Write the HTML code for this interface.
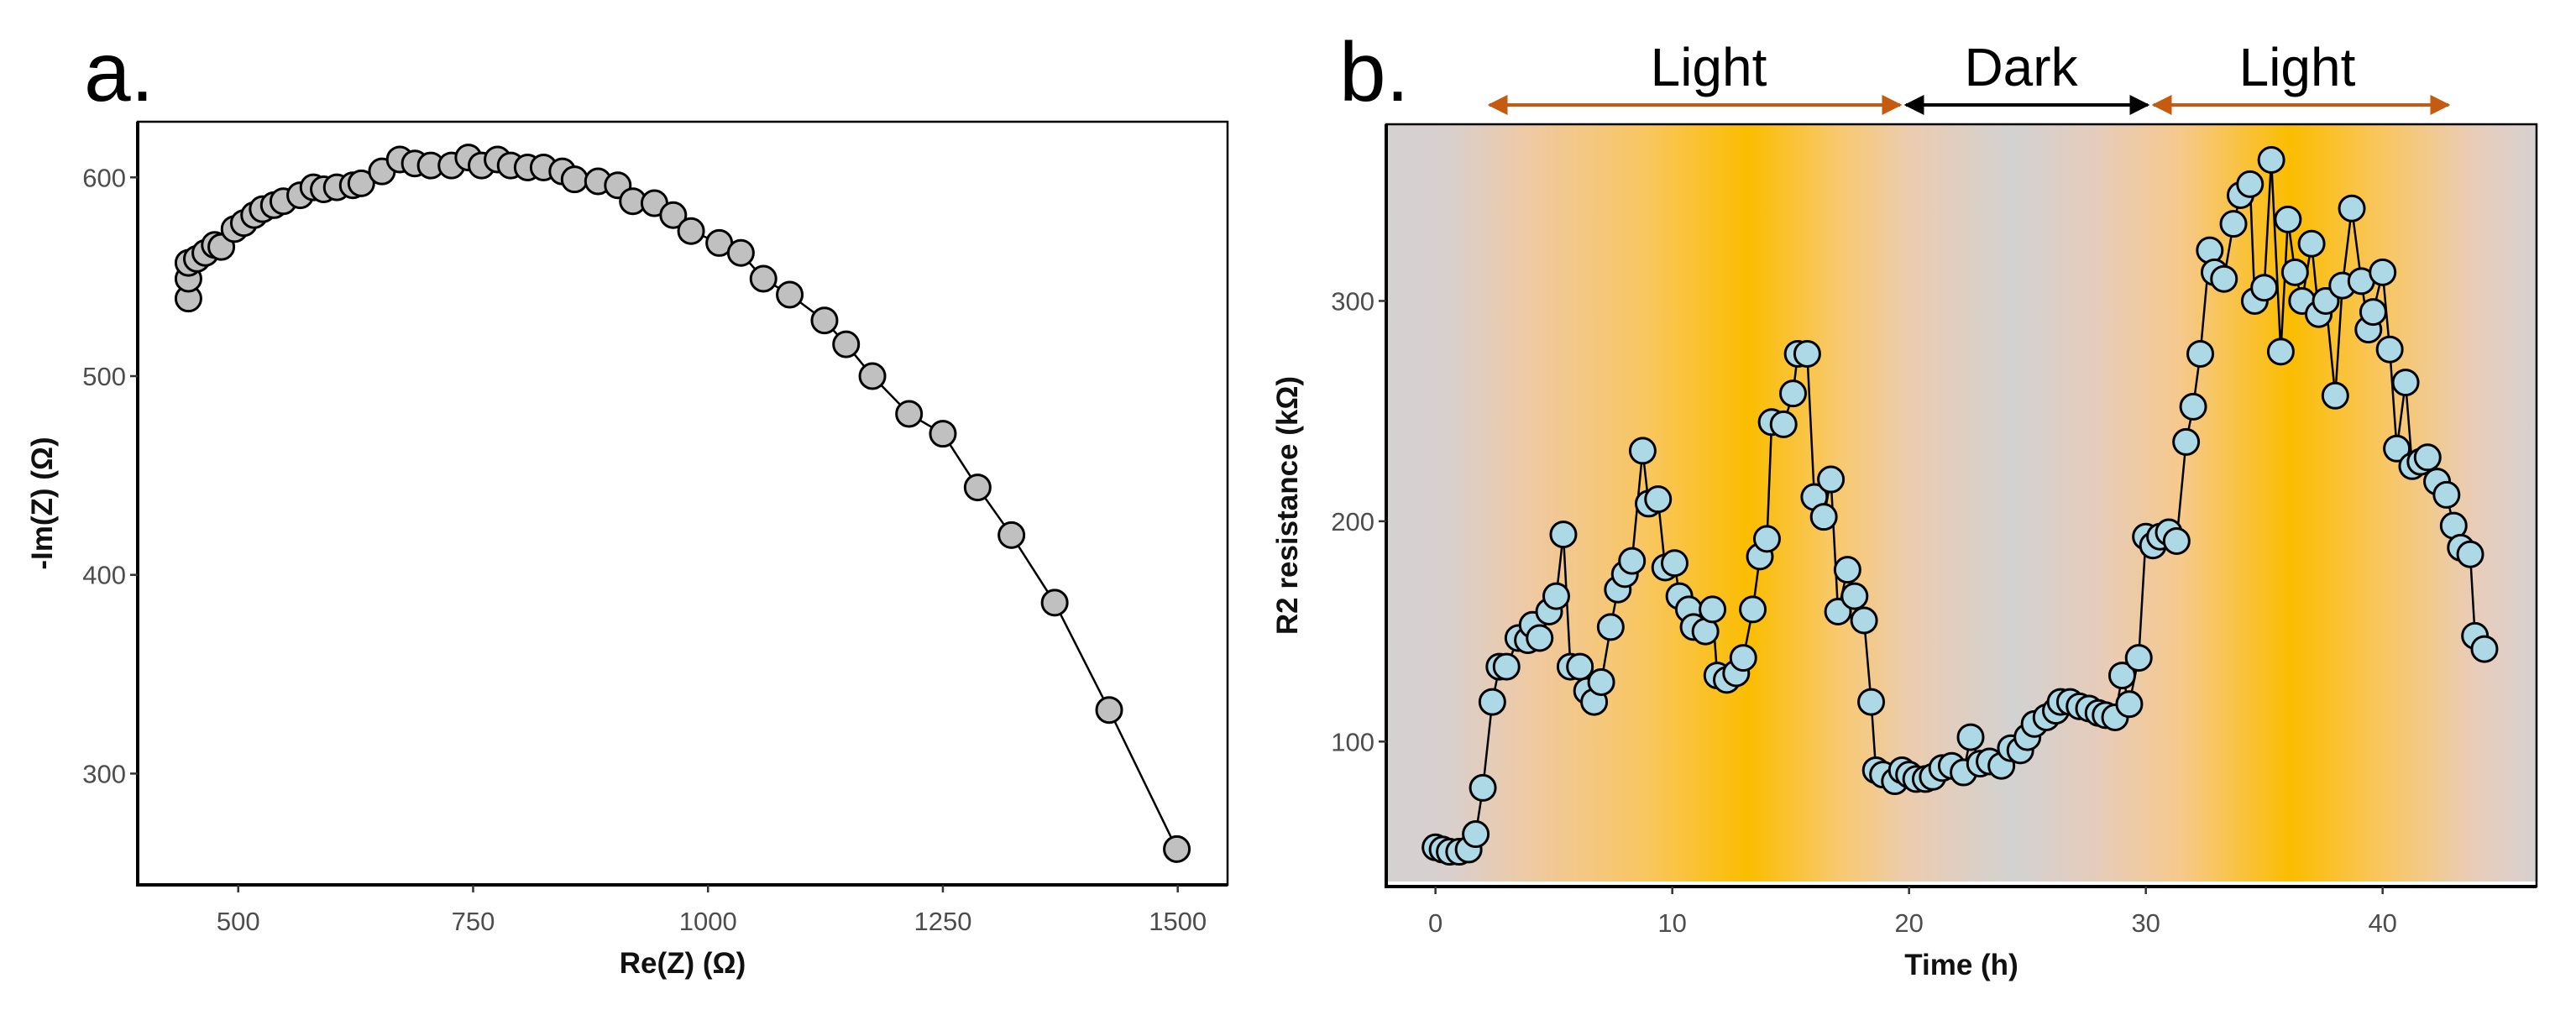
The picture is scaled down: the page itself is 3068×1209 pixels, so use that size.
<!DOCTYPE html>
<html><head><meta charset="utf-8">
<style>
html,body{margin:0;padding:0;background:#fff;}
svg{display:block;font-family:"Liberation Sans",Arial,sans-serif;}
</style></head>
<body>
<svg id="fig" width="3068" height="1209" viewBox="0 0 3068 1209" xmlns="http://www.w3.org/2000/svg">
<defs>
<linearGradient id="lightGrad" x1="0" x2="1" y1="0" y2="0">
<stop offset="0" stop-color="#d4d1d1"/>
<stop offset="0.053" stop-color="#d8d0cf"/>
<stop offset="0.125" stop-color="#efc9a3"/>
<stop offset="0.228" stop-color="#f9c65e"/>
<stop offset="0.315" stop-color="#fbbd00"/>
<stop offset="0.393" stop-color="#f8c96e"/>
<stop offset="0.455" stop-color="#ecccb0"/>
<stop offset="0.545" stop-color="#d2d2d2"/>
<stop offset="0.619" stop-color="#e6ccbb"/>
<stop offset="0.691" stop-color="#f6c98c"/>
<stop offset="0.786" stop-color="#fbbd00"/>
<stop offset="0.866" stop-color="#f9c660"/>
<stop offset="0.948" stop-color="#e9cdbb"/>
<stop offset="1" stop-color="#d6d1d1"/>
</linearGradient>
<marker id="ahO" viewBox="0 0 10 10" refX="9" refY="5" markerWidth="6" markerHeight="6" orient="auto-start-reverse"><path d="M0,0 L10,5 L0,10 z" fill="#c55a11"/></marker>
<marker id="ahK" viewBox="0 0 10 10" refX="9" refY="5" markerWidth="6" markerHeight="6" orient="auto-start-reverse"><path d="M0,0 L10,5 L0,10 z" fill="#000"/></marker>
</defs>

<text x="100" y="120" font-size="100" fill="#000">a.</text>
<text x="1595" y="120" font-size="100" fill="#000">b.</text>

<g id="pa"></g>
<g id="pb"></g>

<g>
<line x1="1774" y1="125" x2="2263" y2="125" stroke="#c55a11" stroke-width="4" marker-start="url(#ahO)" marker-end="url(#ahO)"/>
<line x1="2270" y1="125" x2="2558" y2="125" stroke="#000" stroke-width="4" marker-start="url(#ahK)" marker-end="url(#ahK)"/>
<line x1="2565" y1="125" x2="2916" y2="125" stroke="#c55a11" stroke-width="4" marker-start="url(#ahO)" marker-end="url(#ahO)"/>
<text x="2035" y="102" font-size="64" text-anchor="middle">Light</text>
<text x="2407" y="102" font-size="64" text-anchor="middle">Dark</text>
<text x="2736" y="102" font-size="64" text-anchor="middle">Light</text>
</g>
</svg>
<script>
// Panel a data
const reZ = [447,447,447,456,465,475,482,496,506,517,526,538,548,566,580,591,605,622,631,653,672,688,705,727,745,759,776,790,808,825,845,858,883,904,920,943,963,982,1012,1035,1059,1087,1124,1147,1175,1214,1250,1287,1323,1369,1427,1499];
const imZ = [539,549,557,559,562,566,565,574,577,581,584,586,588,591,595,594,595,596,597,603,609,607,606,606,610,606,609,606,605,605,603,599,598,596,588,587,581,573,567,562,549,541,528,516,500,481,471,444,420,386,332,262];
const aXTicks = [500,750,1000,1250,1500];
const aYTicks = [300,400,500,600];
// Panel b data
const timeH = [0,0.3,0.6,1.0,1.4,1.7,2.0,2.4,2.7,3.0,3.5,3.9,4.1,4.4,4.8,5.1,5.4,5.7,6.1,6.4,6.7,7.0,7.4,7.7,8.0,8.3,8.75,9.0,9.4,9.7,10.1,10.3,10.7,10.9,11.4,11.7,11.9,12.3,12.7,13.0,13.4,13.7,14.0,14.2,14.7,15.1,15.3,15.7,16.0,16.4,16.7,17.0,17.4,17.7,18.1,18.4,18.6,18.9,19.4,19.7,20.0,20.3,20.7,21.0,21.4,21.8,22.3,22.6,23.0,23.4,23.9,24.3,24.7,25.0,25.3,25.8,26.2,26.4,26.8,27.2,27.6,28.0,28.3,28.7,29.0,29.3,29.7,30.0,30.3,30.6,30.97,31.3,31.7,32.0,32.3,32.7,32.9,33.3,33.7,34.0,34.4,34.6,35.0,35.3,35.7,36.0,36.3,36.6,37.0,37.3,37.6,38.0,38.3,38.7,39.1,39.4,39.6,40.0,40.3,40.6,40.97,41.25,41.6,41.9,42.3,42.7,43.0,43.3,43.7,43.9,44.3];
const r2 = [52,51,50,50,51,58,79,118,134,134,147,146,153,147,159,166,194,134,134,123,118,127,152,169,176,182,232,208,210,179,181,166,160,152,150,160,130,128,131,138,160,184,192,245,244,258,276,276,211,202,219,159,178,166,155,118,87,85,82,87,85,83,83,84,88,89,86,102,90,91,89,97,96,102,108,111,114,118,118,116,115,113,112,111,130,117,138,193,189,193,195,191,236,252,276,323,313,310,335,348,353,300,306,364,277,337,313,300,326,294,300,257,307,342,309,287,295,313,278,233,263,225,227,229,218,212,198,188,185,148,142];
const bXTicks = [0,10,20,30,40];
const bYTicks = [100,200,300];

const NS = "http://www.w3.org/2000/svg";
function mk(parent, tag, attrs){const e=document.createElementNS(NS,tag);for(const k in attrs)e.setAttribute(k,attrs[k]);parent.appendChild(e);return e;}

function panel(g, cfg){
  const {L,R,T,B,xmin,xmax,ymin,ymax,xs,ys,xt,yt,fill,bg,xtitle,ytitle,ytitleX,prefix} = cfg;
  const sx = v => L + (v-xmin)/(xmax-xmin)*(R-L);
  const sy = v => B - (v-ymin)/(ymax-ymin)*(B-T);
  const bgR = mk(g,'rect',{x:L,y:T,width:R-L,height:(B-T)-(bg?6:0),fill:bg||'#fff'});
  
  
  const fr = mk(g,'rect',{x:L,y:T,width:R-L,height:B-T,fill:'none',stroke:'#000','stroke-width':2.5});
  
  
  const ax = mk(g,'path',{d:`M${L},${T} L${L},${B} L${R},${B}`,fill:'none',stroke:'#000','stroke-width':4});
  
  
  xt.forEach(v=>{
    const x=sx(v);
    const t=mk(g,'line',{x1:x,x2:x,y1:B,y2:B+9,stroke:'#333','stroke-width':2.5});
    
    
    const l=mk(g,'text',{x:x,y:B+54,'font-size':31,'text-anchor':'middle',fill:'#4d4d4d'});
    l.textContent=v;
    
    
  });
  yt.forEach(v=>{
    const y=sy(v);
    const t=mk(g,'line',{x1:L-9,x2:L,y1:y,y2:y,stroke:'#333','stroke-width':2.5});
    
    
    const l=mk(g,'text',{x:L-14,y:y+11,'font-size':31,'text-anchor':'end',fill:'#4d4d4d'});
    l.textContent=v;
    
    
  });
  const xtT=mk(g,'text',{x:(L+R)/2,y:B+105,'font-size':35,'font-weight':'bold','text-anchor':'middle',fill:'#111'});
  xtT.textContent=xtitle;
  
  
  const cy=(T+B)/2;
  const ytT=mk(g,'text',{x:ytitleX,y:cy,'font-size':35,'font-weight':'bold','text-anchor':'middle',fill:'#111',transform:`rotate(-90 ${ytitleX} ${cy})`});
  ytT.textContent=ytitle;
  
  
  const pts = xs.map((v,i)=>sx(v).toFixed(1)+','+sy(ys[i]).toFixed(1)).join(' ');
  const pl=mk(g,'polyline',{points:pts,fill:'none',stroke:'#000','stroke-width':2.5});
  
  
  xs.forEach((v,i)=>{
    const c=mk(g,'circle',{cx:sx(v),cy:sy(ys[i]),r:15,fill:fill,stroke:'#000','stroke-width':3});
    
    
  });
}

panel(document.getElementById('pa'),{L:164,R:1462,T:145,B:1054,xmin:393,xmax:1553,ymin:244,ymax:628,
  xs:reZ,ys:imZ,xt:aXTicks,yt:aYTicks,fill:'#c0c0c0',bg:null,xtitle:'Re(Z) (Ω)',ytitle:'-Im(Z) (Ω)',ytitleX:62,prefix:'panel-a'});
panel(document.getElementById('pb'),{L:1651,R:3021,T:148,B:1056,xmin:-2.08,xmax:46.5,ymin:34.2,ymax:380.2,
  xs:timeH,ys:r2,xt:bXTicks,yt:bYTicks,fill:'#add8e6',bg:'url(#lightGrad)',xtitle:'Time (h)',ytitle:'R2 resistance (kΩ)',ytitleX:1545,prefix:'panel-b'});
</script>
</body></html>
